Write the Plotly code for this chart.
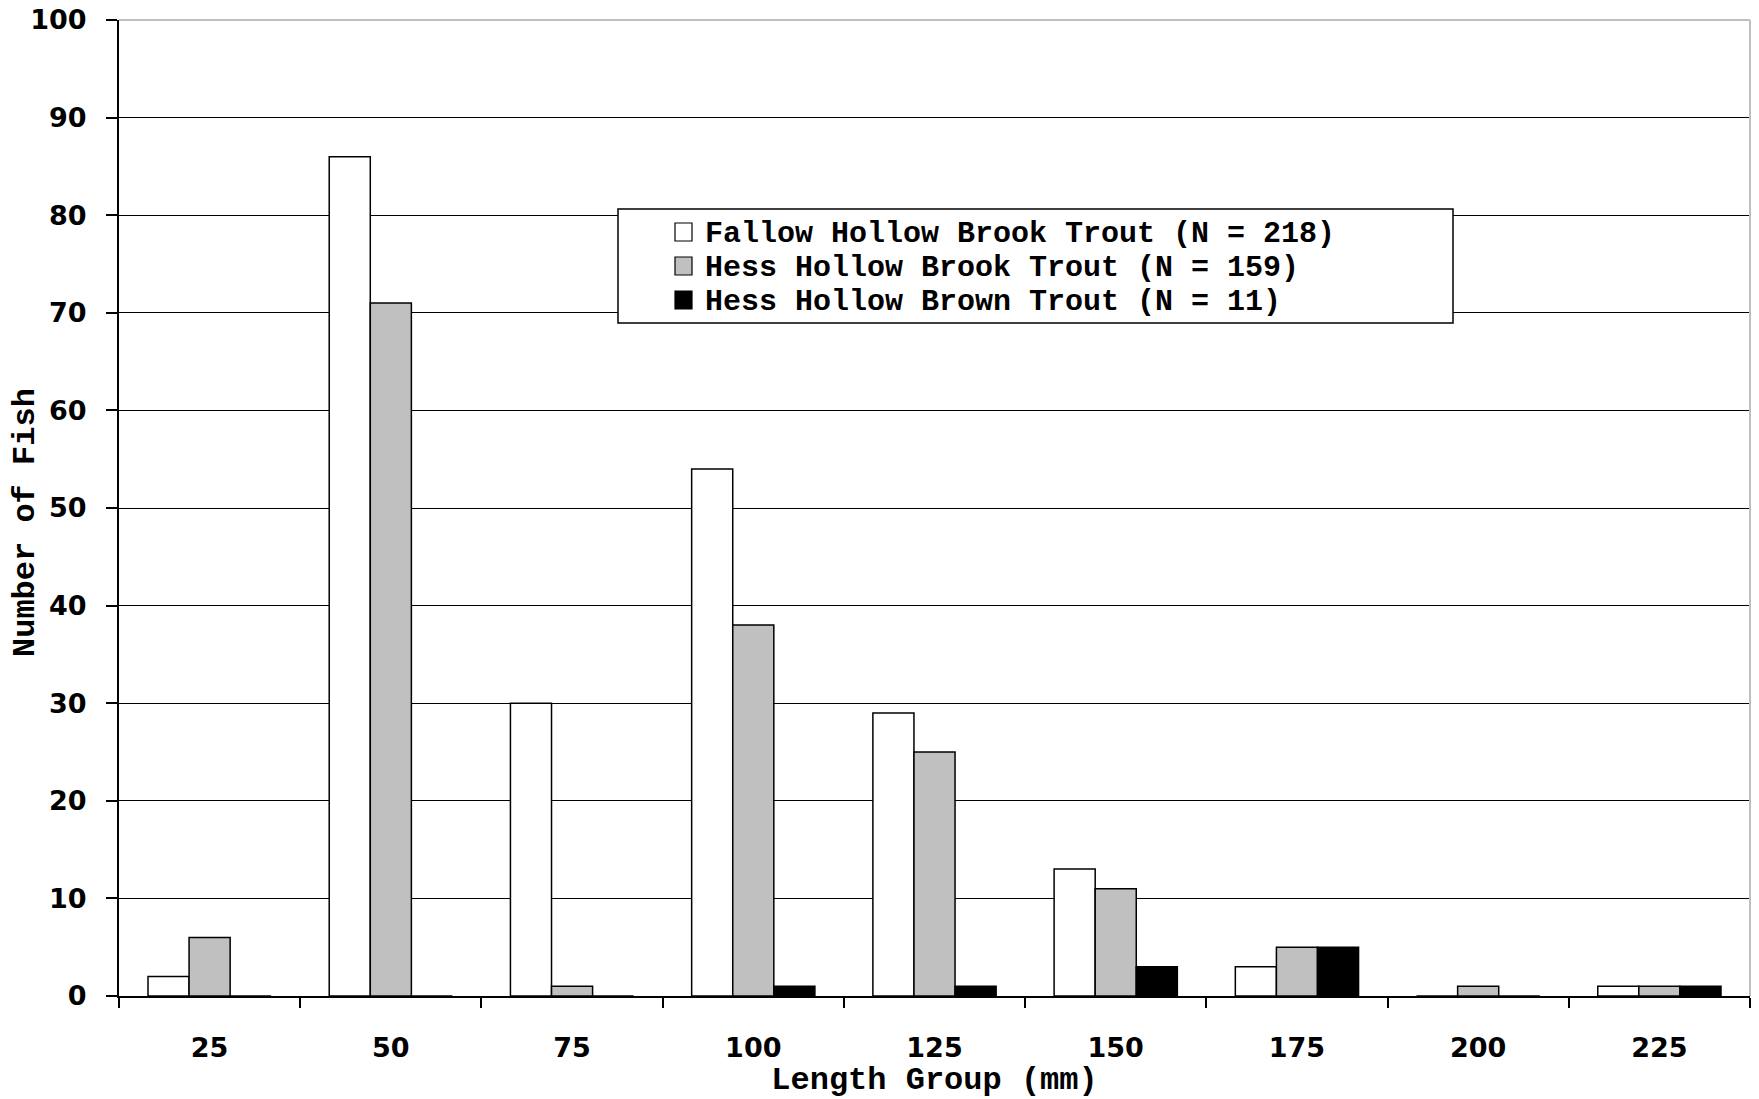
import plotly.graph_objects as go

# Length groups (mm) and fish counts per group
length_groups = ["25", "50", "75", "100", "125", "150", "175", "200", "225"]
fallow_brook = [2, 86, 30, 54, 29, 13, 3, 0, 1]
hess_brook = [6, 71, 1, 38, 25, 11, 5, 1, 1]
hess_brown = [0, 0, 0, 1, 1, 3, 5, 0, 1]

series_names = [
    "Fallow Hollow Brook Trout (N = 218)",
    "Hess Hollow Brook Trout (N = 159)",
    "Hess Hollow Brown Trout (N = 11)",
]
series_values = [fallow_brook, hess_brook, hess_brown]
series_colors = ["#ffffff", "#c0c0c0", "#000000"]

MONO = "Liberation Mono, Courier New, monospace"
SANS = "DejaVu Sans, Verdana, sans-serif"

# Plot-area geometry in pixels (used to place the boxed key in paper coords)
W, H = 1759, 1099
ML, MR, MT, MB = 119, 9, 20, 103
PW, PH = W - ML - MR, H - MT - MB


def px_x(px):
    return (px - ML) / PW


def px_y(py):
    return (H - MB - py) / PH


fig = go.Figure()
for name, vals, col in zip(series_names, series_values, series_colors):
    fig.add_trace(go.Bar(
        x=length_groups, y=vals, name=name,
        marker=dict(color=col, line=dict(color="black", width=1.5)),
        showlegend=False,
    ))

fig.update_layout(
    width=W, height=H,
    margin=dict(l=ML, r=MR, t=MT, b=MB),
    plot_bgcolor="white", paper_bgcolor="white",
    barmode="group", bargap=0.32, bargroupgap=0,
)

fig.update_xaxes(
    type="category", automargin=False,
    showline=True, linecolor="black", linewidth=2,
    ticks="outside", tickson="boundaries", ticklen=10, tickwidth=2, tickcolor="black",
    tickfont=dict(family=SANS, size=27, color="black", weight="bold"),
    ticklabelstandoff=27,
    showgrid=False,
    title=dict(text="Length Group (mm)", standoff=4,
               font=dict(family=MONO, size=32, color="black", weight="bold")),
)

fig.update_yaxes(
    range=[0, 100], dtick=10, automargin=False,
    showline=True, linecolor="black", linewidth=2,
    ticks="outside", ticklen=11, tickwidth=2, tickcolor="black",
    tickfont=dict(family=SANS, size=27, color="black", weight="bold"),
    ticklabelstandoff=14,
    showgrid=True, gridcolor="black", gridwidth=1.3,
    zeroline=False,
)

# Y-axis title, centred a little below the middle of the axis
fig.add_annotation(xref="paper", yref="paper", x=px_x(25), y=px_y(523),
                   xanchor="center", yanchor="middle", showarrow=False,
                   text="Number of Fish", textangle=-90,
                   font=dict(family=MONO, size=32, color="black", weight="bold"))

# Light grey frame along the top and right edges of the plot area
fig.add_shape(type="line", xref="paper", yref="paper", x0=0, x1=1, y0=1, y1=1,
              line=dict(color="#c0c0c0", width=2), layer="above")
fig.add_shape(type="line", xref="paper", yref="paper", x0=1, x1=1, y0=0, y1=1,
              line=dict(color="#c0c0c0", width=2), layer="above")

# Boxed key with one swatch + label per series
fig.add_shape(type="rect", xref="paper", yref="paper",
              x0=px_x(618), x1=px_x(1453), y0=px_y(323), y1=px_y(209),
              fillcolor="white", line=dict(color="black", width=1.5), layer="above")
row_centers = [232, 266, 300]
for name, col, cy in zip(series_names, series_colors, row_centers):
    fig.add_shape(type="rect", xref="paper", yref="paper",
                  x0=px_x(675), x1=px_x(692), y0=px_y(cy + 9), y1=px_y(cy - 9),
                  fillcolor=col, line=dict(color="black", width=1.2), layer="above")
    fig.add_annotation(xref="paper", yref="paper", x=px_x(703), y=px_y(cy + 2),
                       xanchor="left", yanchor="middle", showarrow=False,
                       text=name,
                       font=dict(family=MONO, size=30, color="black", weight="bold"))

fig.write_html("out.html")
